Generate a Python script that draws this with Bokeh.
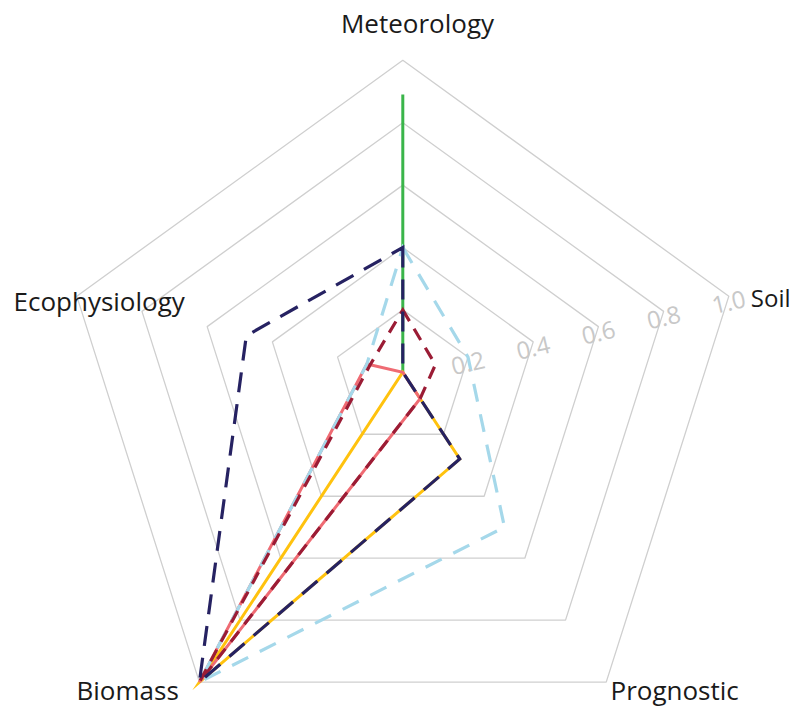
import numpy as np
from bokeh.plotting import figure
from bokeh.models import Range1d
from bokeh.embed import file_html
from bokeh.resources import INLINE
from bokeh.core.properties import value

# ---------------- data ----------------
axis_names = ["Meteorology", "Soil", "Prognostic", "Biomass", "Ecophysiology"]
tick_values = [0.2, 0.4, 0.6, 0.8, 1.0]
tick_labels = ["0.2", "0.4", "0.6", "0.8", "1.0"]

green_vals = [0.89, 0.0, 0.0, 0.0, 0.0]
yellow_vals = [0.0, 0.0, 0.28, 1.0, 0.0]
pink_vals = [0.0, 0.0, 0.085, 1.0, 0.11]
lightblue_vals = [0.40, 0.20, 0.50, 1.0, 0.11]
darkred_vals = [0.20, 0.10, 0.085, 1.0, 0.10]
navy_vals = [0.40, 0.0, 0.28, 1.0, 0.48]

# ---------------- layout ----------------
AXIS_DX = [0.0, 1.045, 0.652, -0.652, -1.045]   # direction of value 1.0 on each axis
AXIS_DY = [1.0, 0.244, -0.993, -0.993, 0.244]

W, H = 791, 706
SCALE = 312.0            # pixels per unit radius
CX, CY = 402.3, 371.8    # canvas position of the centre
TEXT_SHIFT = 10          # rendered baseline sits lower than requested


def px(X, Y):
    """canvas pixel -> data coords"""
    return (X - CX) / SCALE, (CY - Y) / SCALE


x0, y1 = px(0, 0)
x1, y0 = px(W, H)

p = figure(width=W, height=H, x_range=Range1d(x0, x1), y_range=Range1d(y0, y1),
           output_backend="svg", toolbar_location=None, min_border=0,
           x_axis_type=None, y_axis_type=None)
p.grid.visible = False
p.outline_line_color = None
p.background_fill_color = "white"
p.border_fill_color = "white"


def poly(vals):
    xs = [v * dx for v, dx in zip(vals, AXIS_DX)]
    ys = [v * dy for v, dy in zip(vals, AXIS_DY)]
    return xs, ys


# grid pentagons
for t in tick_values:
    xs, ys = poly([t] * 5)
    p.patch(xs, ys, fill_alpha=0, line_color="#CFCFCF", line_width=1.3)

# series
series = [
    (green_vals, "#3AB54A", "solid", 3),
    (yellow_vals, "#FFC20E", "solid", 3),
    (pink_vals, "#EF6B73", "solid", 3),
    (lightblue_vals, "#A5D8EA", "18 13", 3.2),
    (darkred_vals, "#9B1C35", "13 9", 3.2),
    (navy_vals, "#262262", "20 12", 3.2),
]
for vals, col, dash, lw in series:
    xs, ys = poly(vals)
    p.patch(xs, ys, fill_alpha=0, line_color=col, line_width=lw,
            line_dash=dash, line_join="miter")

# tick labels along the Soil axis
tx = [t * AXIS_DX[1] for t in tick_values]
ty = [t * AXIS_DY[1] - 6 / SCALE for t in tick_values]
p.text(x=tx, y=ty, text=tick_labels, text_font=value("Open Sans"),
       text_font_size="24px", text_color="#C8C8C8", text_align="center",
       text_baseline="middle", angle=0.23)

# axis labels (baseline positions in canvas pixels)
label_pos = {
    "Meteorology": ((417, 32, "26px"), "center"),
    "Soil": ((790, 307, "24px"), "right"),
    "Prognostic": ((610, 699, "26px"), "left"),
    "Biomass": ((76, 699, "26px"), "left"),
    "Ecophysiology": ((13, 310, "26px"), "left"),
}
for name in axis_names:
    (X, Y, fs), align = label_pos[name]
    lx, ly = px(X, Y - TEXT_SHIFT)
    p.text(x=[lx], y=[ly], text=[name], text_font=value("Open Sans"),
           text_font_size=fs, text_color="#1A1A1A", text_align=align,
           text_baseline="alphabetic")

open("out.html", "w").write(file_html(p, INLINE))
